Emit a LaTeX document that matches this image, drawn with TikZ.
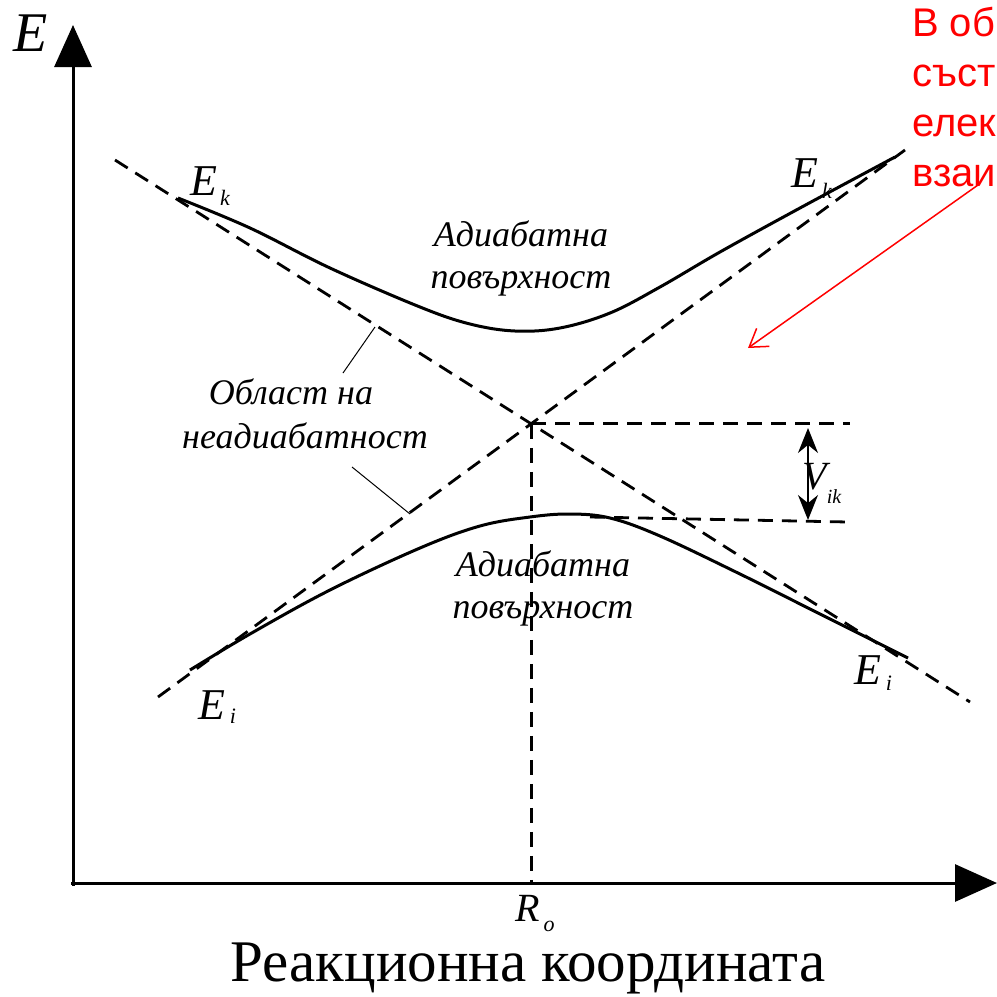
\documentclass[tikz,border=0pt]{standalone}
\usepackage{fontspec}
\setmainfont{Liberation Serif}
\newfontfamily\redfont{Liberation Sans}
\usetikzlibrary{arrows.meta}
\tikzset{
  axisline/.style={line width=3pt,-{Triangle[length=42pt,width=37pt]}},
  dline/.style={line width=2.8pt,dash pattern=on 15pt off 9pt},
  curve/.style={line width=3pt,line join=round},
  leader/.style={line width=1pt},
  lbl/.style={font=\fontsize{36}{42}\selectfont\itshape,align=center,inner sep=0pt},
  elbl/.style={font=\fontsize{44}{44}\selectfont\itshape,inner sep=0pt},
  sublbl/.style={font=\fontsize{22}{22}\selectfont\itshape,inner sep=0pt},
  redtxt/.style={font=\redfont\fontsize{40}{40}\selectfont,text=red,anchor=base west,inner sep=0pt},
}
\begin{document}
\begin{tikzpicture}[x=1pt,y=-1pt]
\useasboundingbox (0,0) rectangle (997,997);
% axes
\coordinate (O) at (73,883);
\coordinate (Ytip) at (73,25);
\coordinate (Xtip) at (997,883);
\draw[axisline] (73,886) -- (Ytip);
\draw[axisline] (71,883) -- (Xtip);
\node[font=\fontsize{56}{56}\selectfont\itshape,inner sep=0pt] (Elab) at (31,33) {E};
% dashed diabatic lines
\coordinate (A1) at (115,160);
\coordinate (A2) at (970,702);
\coordinate (B1) at (158,697);
\coordinate (B2) at (905,150);
\draw[dline] (A1) -- (A2);
\draw[dline] (B1) -- (B2);
\coordinate (X) at (intersection of A1--A2 and B1--B2);
\coordinate (H1) at (850,428);
\coordinate (L1) at (590,517);
\coordinate (L2) at (848,522);
\draw[dline] (X) -- (X -| H1);
\draw[dline] (X) -- (X |- O);
\draw[dline] (L1) -- (L2);
% adiabatic curves
\draw[curve] plot[smooth,tension=0.6] coordinates {(178,198) (250,228) (330,268) (420,307) (470,324) (515,331) (560,328) (610,313) (660,287) (720,252) (800,208) (895,157)};
\draw[curve] plot[smooth,tension=0.6] coordinates {(190,670) (250,634) (330,590) (420,548) (480,526) (530,517) (570,514) (610,518) (660,536) (740,574) (820,614) (908,658)};
% V_ik arrow
\coordinate (Vt) at (808,428);
\coordinate (Vb) at (808,520);
\draw[line width=1.4pt,{Stealth[length=25pt,width=20pt]}-{Stealth[length=25pt,width=20pt]}] (Vt) -- (Vb);
\node[elbl,font=\fontsize{40}{40}\selectfont\itshape] (V) at (815,477) {V};
\node[sublbl,font=\fontsize{20}{20}\selectfont\itshape] (ik) at (834,497) {ik};
% E labels
\node[elbl] (Ek1) at (204,181) {E};
\node[sublbl] (k1) at (225,198) {k};
\node[elbl] (Ek2) at (805,173) {E};
\node[sublbl] (k2) at (827,191) {k};
\node[elbl] (Ei1) at (212,705) {E};
\node[sublbl] (i1) at (233,716) {i};
\node[elbl] (Ei2) at (868,670) {E};
\node[sublbl] (i2) at (889,683) {i};
\node[elbl,font=\fontsize{40}{40}\selectfont\itshape] (R) at (528,908) {R};
\node[sublbl] (Ro) at (549,926) {o};
% text labels
\node[lbl] (ad1) at (521,258) {Адиабатна\\повърхност};
\node[lbl] (ad2) at (543,588) {Адиабатна\\повърхност};
\node[lbl] (obl1) at (291,392) {Област на};
\node[lbl] (obl2) at (305,436) {неадиабатност};
\coordinate (la1) at (343,373);
\coordinate (la2) at (375,327);
\coordinate (lb1) at (352,467);
\coordinate (lb2) at (410,514);
\draw[leader] (la1) -- (la2);
\draw[leader] (lb1) -- (lb2);
\node[font=\fontsize{59}{59}\selectfont,inner sep=0pt,anchor=base] (xlab) at (528,981) {Реакционна координата};
% red note
\node[redtxt] (r1) at (912,36) {В об};
\node[redtxt] (r2) at (912,86) {съст};
\node[redtxt] (r3) at (912,136) {елек};
\node[redtxt] (r4) at (912,186) {взаи};
\coordinate (rs) at (978,185);
\coordinate (re) at (748,348);
\draw[red,line width=1.5pt,-{Straight Barb[length=17pt,width=22pt]}] (rs) -- (re);
\end{tikzpicture}
\end{document}
